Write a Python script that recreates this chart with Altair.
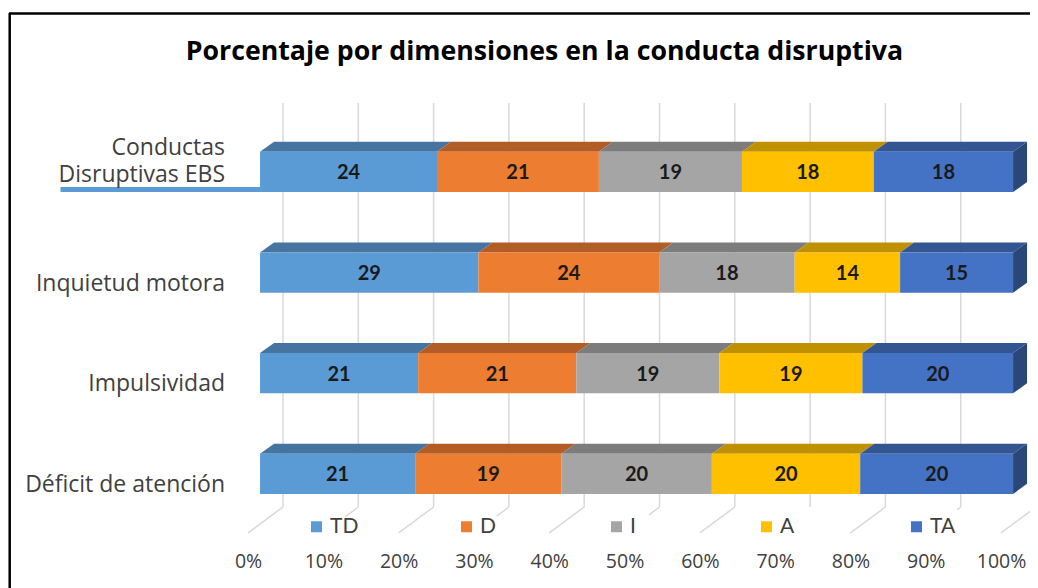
import altair as alt
import pandas as pd

categories = ["Conductas Disruptivas EBS", "Inquietud motora", "Impulsividad", "Déficit de atención"]
series = ["TD", "D", "I", "A", "TA"]
values = {
    "TD": [23.5, 29.0, 21.0, 20.6],
    "D": [21.5, 24.0, 21.0, 19.4],
    "I": [19.0, 18.0, 19.0, 20.0],
    "A": [17.5, 14.0, 19.0, 19.7],
    "TA": [18.5, 15.0, 20.0, 20.3],
}
shown = {
    "TD": [24, 29, 21, 21],
    "D": [21, 24, 21, 19],
    "I": [19, 18, 19, 20],
    "A": [18, 14, 19, 20],
    "TA": [18, 15, 20, 20],
}
ticks = [0, 10, 20, 30, 40, 50, 60, 70, 80, 90, 100]
floor_visible = [1, 0.37, 1, 0.35, 1, 0.3, 1, 0, 1, 0.1, 1]
front_colors = ["#5B9BD5", "#ED7D31", "#A5A5A5", "#FFC000", "#4472C4"]
top_colors = ["#44749F", "#B25D25", "#7C7C7C", "#BF9000", "#335693"]
side_color = "#2A4778"

W, H = 1022, 580
XS = alt.Scale(domain=[-33.47, 102.25], nice=False, zero=False)
YS = alt.Scale(domain=[4.135, -1.63], nice=False, zero=False)
HALF, DY, DX = 0.2, 0.1, 1.86
BACK_DX, FRONT_DX = 3.05, -1.6
WALL_TOP, WALL_BOTTOM, FLOOR_FRONT = -0.686, 3.33, 3.588

front, tops, side = [], [], []
for r, cat in enumerate(categories):
    start = 0.0
    for s, name in enumerate(series):
        end = start + values[name][r]
        front.append(dict(cat=cat, r=r, series=name, start=start, end=end,
                          y0=r - HALF, y1=r + HALF, mid=(start + end) / 2,
                          label=shown[name][r]))
        key = f"{r}-{name}"
        tops.append(dict(key=key, series=name, y=r - HALF, a=start, b=end))
        tops.append(dict(key=key, series=name, y=r - HALF - DY, a=start + DX, b=end + DX))
        start = end
    side.append(dict(key=r, x=100, y0=r - HALF, y1=r + HALF))
    side.append(dict(key=r, x=100 + DX, y0=r - HALF - DY, y1=r + HALF - DY))
front = pd.DataFrame(front)
tops = pd.DataFrame(tops)
side = pd.DataFrame(side)

grid = pd.DataFrame({"x": [t + BACK_DX for t in ticks]})
grid["y0"], grid["y1"] = WALL_TOP, WALL_BOTTOM
floor = pd.DataFrame({
    "x": [t + BACK_DX for t in ticks],
    "x2": [t + BACK_DX + f * (FRONT_DX - BACK_DX) for t, f in zip(ticks, floor_visible)],
    "y": [WALL_BOTTOM] * len(ticks),
    "y2": [WALL_BOTTOM + f * (FLOOR_FRONT - WALL_BOTTOM) for f in floor_visible],
})

x = alt.X("x:Q", scale=XS, title=None, axis=None)
y = alt.Y("y:Q", scale=YS, title=None, axis=None)

grid_l = alt.Chart(grid).mark_rule(color="#D9D9D9", strokeWidth=1.5).encode(
    x=x, y=alt.Y("y0:Q", scale=YS, axis=None), y2="y1:Q")
floor_l = alt.Chart(floor).mark_rule(color="#D9D9D9", strokeWidth=1.5).encode(
    x=x, x2="x2:Q", y=y, y2="y2:Q")

top_l = alt.Chart(tops).mark_area(orient="horizontal").encode(
    x=alt.X("a:Q", scale=XS, axis=None), x2="b:Q",
    y=alt.Y("y:Q", scale=YS, axis=None), detail="key:N",
    fill=alt.Fill("series:N", scale=alt.Scale(domain=series, range=top_colors), legend=None))
side_l = alt.Chart(side).mark_area(orient="vertical", color=side_color).encode(
    x=x, y=alt.Y("y0:Q", scale=YS, axis=None), y2="y1:Q", detail="key:N")

stray = alt.Chart(pd.DataFrame({"a": [-26.5], "b": [0], "y": [0.175]})).mark_rule(
    color="#5B9BD5", strokeWidth=5).encode(
    x=alt.X("a:Q", scale=XS, axis=None), x2="b:Q", y=y)

bars = alt.Chart(front).mark_bar().encode(
    x=alt.X("start:Q", scale=XS, title=None, axis=alt.Axis(
        values=ticks, labelExpr="datum.value + '%'", domain=False, ticks=False, grid=False,
        labelFont="Open Sans", labelFontSize=19.5, labelColor="#404040", labelOffset=-12,
        labelPadding=0, offset=-36, orient="bottom")),
    x2="end:Q",
    y=alt.Y("y0:Q", scale=YS, axis=None), y2="y1:Q",
    color=alt.Color("series:N", scale=alt.Scale(domain=series, range=front_colors), sort=series,
                    title=None,
                    legend=alt.Legend(orient="none", legendX=298, legendY=508, direction="horizontal",
                                      columns=5, symbolType="square", symbolSize=121,
                                      symbolStrokeWidth=0, symbolOpacity=1,
                                      labelFont="Lato", labelFontSize=21, labelColor="#404040",
                                      labelOffset=3, gridAlign="all", columnPadding=97)))

labels = alt.Chart(front).mark_text(font="Lato", fontSize=20, fontWeight="bold", color="#1a1a1a", dy=1.5).encode(
    x=alt.X("mid:Q", scale=XS, axis=None), y=alt.Y("r:Q", scale=YS, axis=None), text="label:Q")

cat_df = pd.DataFrame({"cat": categories[1:], "r": [1, 2, 3], "x": [-4.65] * 3})
cats = alt.Chart(cat_df).mark_text(font="Open Sans", fontSize=23, align="right", dy=11, color="#404040").encode(
    x=x, y=alt.Y("r:Q", scale=YS, axis=None), text="cat:N")
cat0_df = pd.DataFrame({"r": [0], "x": [-4.65], "t": [["Conductas", "Disruptivas EBS"]]})
cat0 = alt.Chart(cat0_df).mark_text(font="Open Sans", fontSize=23, align="right", lineHeight=27, dy=-24,
                                    color="#404040").encode(
    x=x, y=alt.Y("r:Q", scale=YS, axis=None), text="t")

frame_top = alt.Chart().mark_rule(color="black", strokeWidth=2.5).encode(
    x=alt.value(1), x2=alt.value(W), y=alt.value(5.5))
frame_left = alt.Chart().mark_rule(color="black", strokeWidth=2.5).encode(
    x=alt.value(1.7), y=alt.value(5), y2=alt.value(H))

chart = alt.layer(grid_l, floor_l, stray, top_l, side_l, bars, labels, cats, cat0, frame_top, frame_left).resolve_scale(
    fill="independent", color="independent"
).resolve_axis(x="independent", y="independent").properties(
    width=W, height=H, padding=0,
    autosize=alt.AutoSizeParams(type="none"),
    title=alt.TitleParams("Porcentaje por dimensiones en la conducta disruptiva",
                          font="Open Sans", fontSize=26.7, fontWeight="bold", color="black",
                          anchor="middle", dx=25.5, dy=58, offset=0),
).configure_view(stroke=None)

chart.save("out.html", embed_options={"renderer": "svg", "actions": False})
